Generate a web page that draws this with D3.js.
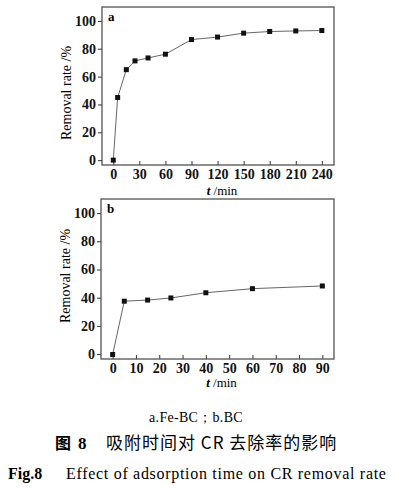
<!DOCTYPE html>
<html>
<head>
<meta charset="utf-8">
<script src="https://cdn.jsdelivr.net/npm/d3@7"></script>
<style>
  body { margin: 0; background: #fff; }
  svg { display: block; }
</style>
</head>
<body>
<div id="chart"></div>
<script>
// Removal rate of CR vs. adsorption time, two panels

const timeA = [0, 5, 15, 25, 40, 60, 90, 120, 150, 180, 210, 240];
const rateA = [0, 45, 65, 71.3, 73.4, 76.1, 86.6, 88.4, 91.2, 92.4, 92.8, 93.1];
const ticksA = [0, 30, 60, 90, 120, 150, 180, 210, 240];

const timeB = [0, 5, 15, 25, 40, 60, 90];
const rateB = [-0.3, 37.5, 38.3, 39.8, 43.5, 46.4, 48.3];
const ticksB = [0, 10, 20, 30, 40, 50, 60, 70, 80, 90];

const yTicks = [0, 20, 40, 60, 80, 100];

const width = 395;
const height = 489;
const serif = "'Liberation Serif', 'Times New Roman', 'DejaVu Serif', serif";
const cjk = "'Noto Sans CJK SC', sans-serif";

const svg = d3.select("#chart")
    .append("svg")
    .attr("width", width)
    .attr("height", height);

function drawPanel(opts) {
    const g = svg.append("g")
        .attr("transform", `translate(${opts.left}, ${opts.top})`);

    const innerW = opts.right - opts.left;
    const innerH = opts.bottom - opts.top;

    const x = d3.scaleLinear().domain(opts.xDomain).range([0, innerW]);
    const y = d3.scaleLinear().domain([-3.5, 110]).range([innerH, 0]);

    // x axis, ticks pointing inward
    const xAxis = g.append("g")
        .attr("transform", `translate(0, ${innerH})`)
        .call(d3.axisBottom(x).tickValues(opts.ticks).tickSizeInner(-4).tickSizeOuter(0).tickPadding(4));
    xAxis.select(".domain").remove();
    xAxis.selectAll("text")
        .style("font-family", serif)
        .style("font-size", "14px")
        .style("font-weight", "bold")
        .attr("fill", "#111");
    xAxis.selectAll("line").attr("stroke", "#333");

    // y axis, ticks pointing outward
    const yAxis = g.append("g")
        .call(d3.axisLeft(y).tickValues(yTicks).tickSizeInner(4).tickSizeOuter(0).tickPadding(2));
    yAxis.select(".domain").remove();
    yAxis.selectAll("text")
        .style("font-family", serif)
        .style("font-size", "14px")
        .style("font-weight", "bold")
        .attr("fill", "#111");
    yAxis.selectAll("line").attr("stroke", "#333");

    // frame
    g.append("rect")
        .attr("width", innerW)
        .attr("height", innerH)
        .attr("fill", "none")
        .attr("stroke", "#444")
        .attr("stroke-width", 1.2);

    const data = opts.times.map((t, i) => ({t: t, v: opts.rates[i]}));

    const line = d3.line()
        .x(d => x(d.t))
        .y(d => y(d.v));

    g.append("path")
        .datum(data)
        .attr("fill", "none")
        .attr("stroke", "#666")
        .attr("stroke-width", 1)
        .attr("d", line);

    g.selectAll(".pt")
        .data(data)
        .join("rect")
        .attr("x", d => x(d.t) - 2.5)
        .attr("y", d => y(d.v) - 2.5)
        .attr("width", 5)
        .attr("height", 5)
        .attr("fill", "#111");

    // panel letter
    g.append("text")
        .attr("x", 6)
        .attr("y", 14)
        .style("font-family", serif)
        .style("font-size", "13px")
        .style("font-weight", "bold")
        .text(opts.letter);

    // y label
    g.append("text")
        .attr("transform", `translate(${-31}, ${innerH / 2 + opts.yLabelShift}) rotate(-90)`)
        .attr("text-anchor", "middle")
        .style("font-family", serif)
        .style("font-size", "14px")
        .text("Removal rate /%");

    // x label
    const xl = g.append("text")
        .attr("x", innerW / 2 + 4)
        .attr("y", innerH + opts.xLabelOffset)
        .attr("text-anchor", "middle")
        .style("font-family", serif)
        .style("font-size", "13px");
    xl.append("tspan").style("font-style", "italic").style("font-weight", "bold").text("t");
    xl.append("tspan").text(" /min");
}

drawPanel({
    left: 102, right: 334, top: 7, bottom: 165,
    xDomain: [-13, 254], ticks: ticksA,
    times: timeA, rates: rateA, letter: "a",
    xLabelOffset: 30, yLabelShift: 7
});

drawPanel({
    left: 101, right: 334, top: 199, bottom: 359,
    xDomain: [-5, 95], ticks: ticksB,
    times: timeB, rates: rateB, letter: "b",
    xLabelOffset: 28, yLabelShift: -3
});

// captions
svg.append("text")
    .attr("x", 196)
    .attr("y", 422)
    .attr("text-anchor", "middle")
    .style("font-family", serif)
    .style("font-size", "14px")
    .style("letter-spacing", "0.3px")
    .text("a.Fe-BC；b.BC");

const head = svg.append("text")
    .attr("x", 55)
    .attr("y", 449)
    .style("font-weight", "bold")
    .style("font-size", "16px");
head.append("tspan").style("font-family", cjk).text("图");
head.append("tspan").attr("x", 78).style("font-family", serif).style("font-size", "17px").text("8");

svg.append("text")
    .attr("x", 106)
    .attr("y", 449)
    .style("font-family", cjk)
    .style("font-size", "17px")
    .style("letter-spacing", "1px")
    .text("吸附时间对 CR 去除率的影响");

svg.append("text")
    .attr("x", 8)
    .attr("y", 479)
    .style("font-family", serif)
    .style("font-size", "16px")
    .style("font-weight", "bold")
    .text("Fig.8");

svg.append("text")
    .attr("x", 66)
    .attr("y", 479)
    .style("font-family", serif)
    .style("font-size", "16px")
    .style("letter-spacing", "0.7px")
    .text("Effect of adsorption time on CR removal rate");
</script>
</body>
</html>
